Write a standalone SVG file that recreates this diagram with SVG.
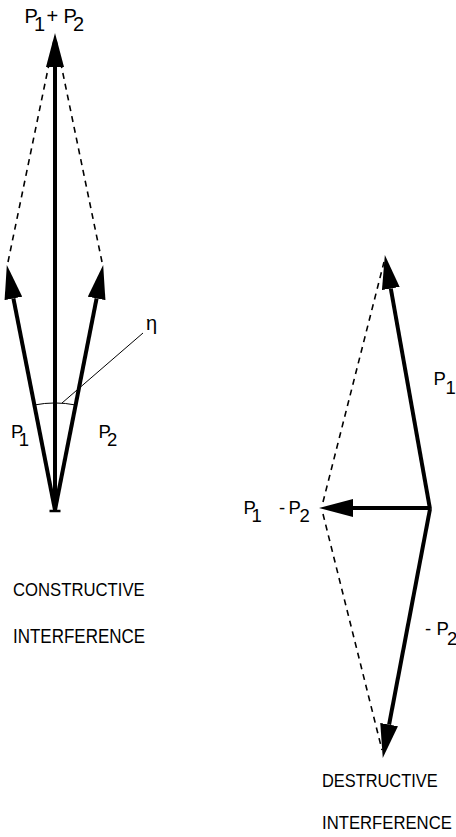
<svg xmlns="http://www.w3.org/2000/svg" width="456" height="837" viewBox="0 0 456 837">
<style>
.vec{stroke:#000;stroke-width:4;fill:none;marker-end:url(#ah)}
.dash{stroke:#000;stroke-width:1.6;fill:none;stroke-dasharray:6 5}
.thin{stroke:#000;stroke-width:1;fill:none}
.lbl{font-family:"Liberation Sans",Arial,sans-serif;font-size:18.5px;fill:#000}
.cap{font-family:"Liberation Sans",Arial,sans-serif;font-size:20px;fill:#000}
.ttl{font-family:"Liberation Sans",Arial,sans-serif;fill:#000}
</style>
<defs>
<marker id="ah" markerUnits="userSpaceOnUse" markerWidth="34" markerHeight="18" viewBox="0 0 34 18" refX="0" refY="9" orient="auto">
<path d="M0,0 L34,9 L0,18 Z" fill="#000"/>
</marker>
</defs>
<g id="connectors">
<line class="dash" x1="8" y1="262" x2="54" y2="40"/>
<line class="dash" x1="102" y1="262" x2="56" y2="40"/>
<line class="vec" x1="55" y1="510" x2="55" y2="67"/>
<line class="vec" x1="55" y1="510" x2="13.4" y2="298.4"/>
<line class="vec" x1="55" y1="510" x2="96.6" y2="298.4"/>
<line x1="49.5" y1="511" x2="60.5" y2="511" stroke="#000" stroke-width="2.5"/>
<path class="thin" d="M34.3,405 A107,107 0 0 1 75.7,405"/>
<line class="thin" x1="62" y1="403" x2="143" y2="333"/>
<line class="dash" x1="323" y1="502" x2="384" y2="262"/>
<line class="dash" x1="323" y1="514" x2="382" y2="750"/>
<line class="vec" x1="430" y1="509" x2="390.8" y2="288.5"/>
<line class="vec" x1="430" y1="509" x2="389.1" y2="724.6"/>
<line class="vec" x1="430" y1="508" x2="353" y2="508"/>
</g>
<g id="sum-label"><text class="cap" x="24.5" y="23">P<tspan dx="-3.8" dy="8">1</tspan><tspan dx="1.4" dy="-8">+</tspan><tspan dx="5.3">P</tspan><tspan dx="-3.8" dy="8">2</tspan></text></g>
<g id="p1-left"><text class="lbl" x="11" y="438">P<tspan dx="-4.5" dy="8">1</tspan></text></g>
<g id="p2-left"><text class="lbl" x="98.5" y="438">P<tspan dx="-3.8" dy="8">2</tspan></text></g>
<g id="eta"><text class="cap" x="146" y="330">η</text></g>
<g id="constructive"><text class="ttl" font-size="16.7" transform="translate(13,596) scale(1,1.15)">CONSTRUCTIVE</text><text class="ttl" font-size="17" transform="translate(13,643) scale(1,1.15)">INTERFERENCE</text></g>
<g id="diff-label"><text class="lbl" x="243.5" y="514">P<tspan dx="-4.3" dy="8">1</tspan><tspan dx="17.2" dy="-8">-</tspan><tspan dx="3.3">P</tspan><tspan dx="-1.3" dy="8">2</tspan></text></g>
<g id="p1-right"><text class="lbl" x="433.5" y="385">P<tspan dx="-0.3" dy="9">1</tspan></text></g>
<g id="mp2-right"><text class="lbl" x="425" y="635">-<tspan dx="5.3">P</tspan><tspan dx="-1.8" dy="10">2</tspan></text></g>
<g id="destructive"><text class="ttl" font-size="16.4" transform="translate(322,787) scale(1,1.15)">DESTRUCTIVE</text><text class="ttl" font-size="16.7" transform="translate(322,829) scale(1,1.15)">INTERFERENCE</text></g>
</svg>
